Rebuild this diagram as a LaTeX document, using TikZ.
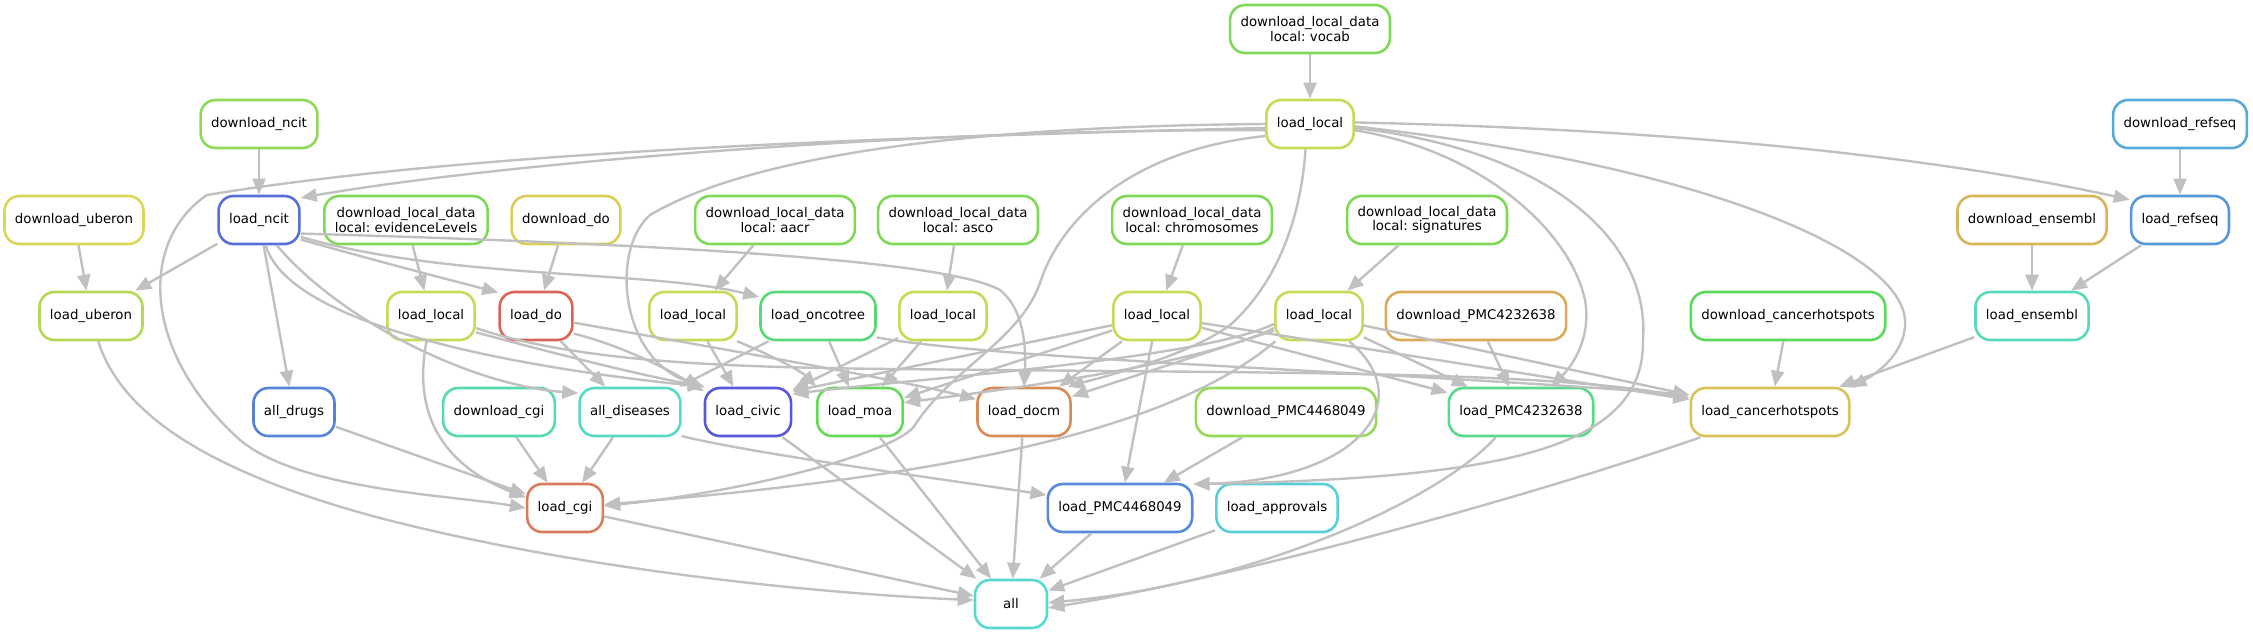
\documentclass[tikz,border=0pt]{standalone}
\usepackage{fontspec}
\setmainfont{DejaVu Sans}
\usetikzlibrary{arrows.meta}
\frenchspacing
\definecolor{edgec}{HTML}{C0C0C0}
\definecolor{cdl}{HTML}{7ED957}
\definecolor{cdncit}{HTML}{8FD957}
\definecolor{cll}{HTML}{C8D957}
\definecolor{cdrefseq}{HTML}{57A9D9}
\definecolor{clrefseq}{HTML}{5798D9}
\definecolor{cduberon}{HTML}{D9D757}
\definecolor{cluberon}{HTML}{B4D957}
\definecolor{clncit}{HTML}{576FD9}
\definecolor{cddo}{HTML}{D9CE57}
\definecolor{cldo}{HTML}{D96457}
\definecolor{concotree}{HTML}{57D978}
\definecolor{cdensembl}{HTML}{D9B457}
\definecolor{clensembl}{HTML}{57D9BD}
\definecolor{cdpmcA}{HTML}{D9A957}
\definecolor{cdcancer}{HTML}{59D957}
\definecolor{calldrugs}{HTML}{5782D9}
\definecolor{cdcgi}{HTML}{57D9A9}
\definecolor{calldis}{HTML}{57D9C3}
\definecolor{clcivic}{HTML}{5759D9}
\definecolor{clmoa}{HTML}{64D957}
\definecolor{cldocm}{HTML}{D98B57}
\definecolor{cdpmcB}{HTML}{96D957}
\definecolor{clpmcA}{HTML}{57D98B}
\definecolor{clcancer}{HTML}{D9C357}
\definecolor{clcgi}{HTML}{D97C57}
\definecolor{clpmcB}{HTML}{578BD9}
\definecolor{clapprovals}{HTML}{57CED9}
\definecolor{call}{HTML}{57D9D2}
\begin{document}
\begin{tikzpicture}[x=1pt,y=-1pt,
  box/.style={draw=#1, line width=2.6pt, rounded corners=15pt, minimum width=72pt,
    minimum height=48pt, inner xsep=10.5pt, inner ysep=0pt, align=center,
    font=\fontsize{13.33}{14.4}\selectfont},
  edge/.style={draw=edgec, line width=2.4pt, -{Triangle[length=16pt,width=13pt]}}]
\useasboundingbox (0,0) rectangle (2253,635);
% nodes
\node[box=cdl] (dlvocab) at (1310,29) {download\_local\_data\\local: vocab};
\node[box=cll] (llvocab) at (1310,124) {load\_local};
\node[box=cdncit] (dncit) at (259,124) {download\_ncit};
\node[box=cdrefseq] (drefseq) at (2180,124) {download\_refseq};
\node[box=cduberon] (duberon) at (74,220) {download\_uberon};
\node[box=clncit] (lncit) at (259,220) {load\_ncit};
\node[box=cdl] (dlevid) at (406,220) {download\_local\_data\\local: evidenceLevels};
\node[box=cddo] (ddo) at (566,220) {download\_do};
\node[box=cdl] (dlaacr) at (775,220) {download\_local\_data\\local: aacr};
\node[box=cdl] (dlasco) at (958,220) {download\_local\_data\\local: asco};
\node[box=cdl] (dlchrom) at (1192,220) {download\_local\_data\\local: chromosomes};
\node[box=cdl] (dlsig) at (1427,220) {download\_local\_data\\local: signatures};
\node[box=cdensembl] (densembl) at (2032,220) {download\_ensembl};
\node[box=clrefseq] (lrefseq) at (2180,220) {load\_refseq};
\node[box=cluberon] (luberon) at (91,316) {load\_uberon};
\node[box=cll] (llevid) at (431,316) {load\_local};
\node[box=cldo] (ldo) at (536,316) {load\_do};
\node[box=cll] (llaacr) at (693,316) {load\_local};
\node[box=concotree] (loncotree) at (818,316) {load\_oncotree};
\node[box=cll] (llasco) at (943,316) {load\_local};
\node[box=cll] (llchrom) at (1157,316) {load\_local};
\node[box=cll] (llsig) at (1319,316) {load\_local};
\node[box=cdpmcA] (dpmc42) at (1476,316) {download\_PMC4232638};
\node[box=cdcancer] (dcancer) at (1788,316) {download\_cancerhotspots};
\node[box=clensembl] (lensembl) at (2032,316) {load\_ensembl};
\node[box=calldrugs] (alldrugs) at (294,412) {all\_drugs};
\node[box=cdcgi] (dcgi) at (499,412) {download\_cgi};
\node[box=calldis] (alldis) at (630,412) {all\_diseases};
\node[box=clcivic] (lcivic) at (748,412) {load\_civic};
\node[box=clmoa] (lmoa) at (860,412) {load\_moa};
\node[box=cldocm] (ldocm) at (1024,412) {load\_docm};
\node[box=cdpmcB] (dpmc44) at (1286,412) {download\_PMC4468049};
\node[box=clpmcA] (lpmc42) at (1521,412) {load\_PMC4232638};
\node[box=clcancer] (lcancer) at (1770,412) {load\_cancerhotspots};
\node[box=clcgi] (lcgi) at (565,508) {load\_cgi};
\node[box=clpmcB] (lpmc44) at (1120,508) {load\_PMC4468049};
\node[box=clapprovals] (lapprovals) at (1277,508) {load\_approvals};
\node[box=call] (all) at (1011,604) {all};
% straight edges
\draw[edge] (dlvocab) -- (llvocab);
\draw[edge] (dncit) -- (lncit);
\draw[edge] (drefseq) -- (lrefseq);
\draw[edge] (duberon) -- (luberon);
\draw[edge] (lncit) -- (luberon);
\draw[edge] (dlevid) -- (llevid);
\draw[edge] (ddo) -- (ldo);
\draw[edge] (dlaacr) -- (llaacr);
\draw[edge] (dlasco) -- (llasco);
\draw[edge] (dlchrom) -- (llchrom);
\draw[edge] (dlsig) -- (llsig);
\draw[edge] (densembl) -- (lensembl);
\draw[edge] (lrefseq) -- (lensembl);
\draw[edge] (lensembl) -- (lcancer);
\draw[edge] (dcancer) -- (lcancer);
\draw[edge] (dpmc42) -- (lpmc42);
\draw[edge] (dpmc44) -- (lpmc44);
\draw[edge] (dcgi) -- (lcgi);
\draw[edge] (alldis) -- (lcgi);
\draw[edge] (alldrugs) -- (lcgi);
\draw[edge] (lncit) -- (alldrugs);
\draw[edge] (ldo) -- (alldis);
\draw[edge] (loncotree) -- (alldis);
\draw[edge] (llaacr) -- (lcivic);
\draw[edge] (llasco) -- (lcivic);
\draw[edge] (llasco) -- (lmoa);
\draw[edge] (loncotree) -- (lmoa);
\draw[edge] (llchrom) -- (lcivic.25);
\draw[edge] (llchrom) -- (lmoa);
\draw[edge] (llchrom) -- (ldocm);
\draw[edge] (llchrom) -- (lpmc44);
\draw[edge] (llchrom) -- (lpmc42);
\draw[edge] (llchrom) -- (lcancer);
\draw[edge] (llsig) -- (ldocm);
\draw[edge] (llsig) -- (lpmc42);
\draw[edge] (llsig) -- (lcancer);
\draw[edge] (lcivic) -- (all);
\draw[edge] (lmoa) -- (all);
\draw[edge] (ldocm) -- (all);
\draw[edge] (lpmc44) -- (all);
\draw[edge] (lapprovals) -- (all);
\draw[edge] (lcgi) -- (all);
% curved edges from the top load_local
\draw[edge] (llvocab.188) .. controls (950,128) and (520,160) .. (lncit.28);
\draw[edge] (llvocab.185) .. controls (900,137) and (480,150) .. (207,195)
  .. controls (140,240) and (140,350) .. (240,440)
  .. controls (300,490) and (450,495) .. (lcgi.180);
\draw[edge] (llvocab.180) .. controls (1000,126) and (760,150) .. (650,215)
  .. controls (610,250) and (620,360) .. (lcivic.150);
\draw[edge] (llvocab.195) .. controls (1130,150) and (1060,220) .. (1040,283)
  .. controls (1020,340) and (950,370) .. (915,425)
  .. controls (900,450) and (760,490) .. (lcgi.3);
\draw[edge] (llvocab.-100) .. controls (1300,230) and (1270,290) .. (1230,325)
  .. controls (1190,355) and (1110,375) .. (ldocm.30);
\draw[edge] (llvocab.-8) .. controls (1480,150) and (1570,230) .. (1585,300)
  .. controls (1592,340) and (1570,368) .. (lpmc42.40);
\draw[edge] (llvocab.-5) .. controls (1550,150) and (1650,240) .. (1643,340)
  .. controls (1645,450) and (1500,478) .. (lpmc44.18);
\draw[edge] (llvocab.-3) .. controls (1700,165) and (1900,250) .. (1905,320)
  .. controls (1907,350) and (1880,372) .. (lcancer.17);
\draw[edge] (llvocab.2) .. controls (1700,130) and (1950,160) .. (lrefseq.158);
% curved edges from load_ncit
\draw[edge] (lncit.-18) .. controls (700,245) and (950,262) .. (1000,290)
  .. controls (1025,310) and (1026,350) .. (ldocm.north);
\draw[edge] (lncit.-25) .. controls (380,262) and (450,280) .. (ldo.148);
\draw[edge] (lncit.-22) .. controls (450,280) and (650,270) .. (loncotree.162);
\draw[edge] (lncit.-55) .. controls (340,320) and (470,385) .. (alldis.160);
\draw[edge] (lncit.-75) .. controls (290,330) and (540,370) .. (lcivic.150);
% other curved edges
\draw[edge] (llevid.-100) .. controls (415,400) and (430,460) .. (lcgi.165);
\draw[edge] (llevid.-20) .. controls (560,355) and (640,375) .. (lcivic.150);
\draw[edge] (llevid.-15) .. controls (600,370) and (800,368) .. (1000,370)
  .. controls (1300,373) and (1550,372) .. (lcancer.170);
\draw[edge] (ldo.-25) .. controls (620,345) and (670,370) .. (lcivic.155);
\draw[edge] (ldo.-10) .. controls (700,345) and (900,380) .. (ldocm.165);
\draw[edge] (llaacr.-30) .. controls (760,350) and (800,370) .. (lmoa.150);
\draw[edge] (loncotree.-20) .. controls (1000,360) and (1400,372) .. (lcancer.168);
\draw[edge] (llsig.190) .. controls (1200,360) and (900,380) .. (lcivic.22);
\draw[edge] (llsig.195) .. controls (1200,365) and (1000,390) .. (lmoa.12);
\draw[edge] (llsig.-150) .. controls (1160,440) and (900,480) .. (lcgi.5);
\draw[edge] (llsig.-40) .. controls (1420,400) and (1360,480) .. (lpmc44.18);
\draw[edge] (alldis.-25) .. controls (760,455) and (950,480) .. (lpmc44.170);
\draw[edge] (lpmc42.-135) .. controls (1440,500) and (1250,585) .. (all.2);
\draw[edge] (lcancer.-160) .. controls (1550,490) and (1250,575) .. (all.-6);
\draw[edge] (luberon.-74) .. controls (120,410) and (200,470) .. (380,518)
  .. controls (600,575) and (850,595) .. (all.174);
\end{tikzpicture}
\end{document}
